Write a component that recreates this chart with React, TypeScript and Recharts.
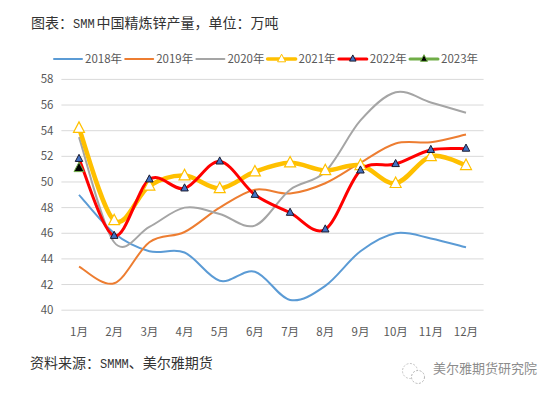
import { LineChart, Line, XAxis, YAxis, CartesianGrid } from 'recharts';

const months = ['1月', '2月', '3月', '4月', '5月', '6月', '7月', '8月', '9月', '10月', '11月', '12月'];
const yTicks = [40, 42, 44, 46, 48, 50, 52, 54, 56, 58];

const v2018 = [49, 46, 44.6, 44.5, 42.3, 43, 40.8, 41.9, 44.6, 46, 45.6, 44.9];
const v2019 = [43.4, 42.1, 45.3, 46.1, 48, 49.4, 49.1, 49.9, 51.5, 53, 53.1, 53.7];
const v2020 = [53.5, 45.3, 46.5, 48, 47.5, 46.6, 49.4, 50.8, 54.8, 57, 56.2, 55.4];
const v2021 = [54.2, 47, 49.7, 50.5, 49.5, 50.8, 51.5, 50.9, 51.3, 49.9, 52, 51.3];
const v2022 = [51.8, 45.8, 50.2, 49.5, 51.6, 49, 47.6, 46.3, 50.9, 51.4, 52.5, 52.6];
const v2023 = [51.1];

const chartData = months.map((month, i) => ({
  month,
  y2018: v2018[i],
  y2019: v2019[i],
  y2020: v2020[i],
  y2021: v2021[i],
  y2022: v2022[i],
  y2023: v2023[i] ?? null,
}));

const FONT = '"Noto Sans CJK SC", "Noto Sans", sans-serif';
const MONO = { fontFamily: '"Liberation Mono", monospace', fontSize: 12 };

// excel style smoothed line (catmull-rom through every point)
function excelCurve(context: any) {
  let pts: [number, number][] = [];
  return {
    areaStart() {},
    areaEnd() {},
    lineStart() {
      pts = [];
    },
    point(x: number, y: number) {
      pts.push([+x, +y]);
    },
    lineEnd() {
      if (!pts.length) return;
      context.moveTo(pts[0][0], pts[0][1]);
      if (pts.length === 1) context.lineTo(pts[0][0], pts[0][1]);
      for (let i = 0; i < pts.length - 1; i++) {
        const p0 = pts[Math.max(i - 1, 0)];
        const p1 = pts[i];
        const p2 = pts[i + 1];
        const p3 = pts[Math.min(i + 2, pts.length - 1)];
        context.bezierCurveTo(
          p1[0] + (p2[0] - p0[0]) / 6,
          p1[1] + (p2[1] - p0[1]) / 6,
          p2[0] - (p3[0] - p1[0]) / 6,
          p2[1] - (p3[1] - p1[1]) / 6,
          p2[0],
          p2[1],
        );
      }
    },
  };
}

function Triangle({ cx, cy, size, fill, stroke, strokeWidth }: any) {
  if (cx == null || cy == null) return null;
  const h = size * 0.95;
  return (
    <path
      d={`M${cx},${cy - h / 2 - 1}L${cx + size / 2},${cy + h / 2 - 1}L${cx - size / 2},${cy + h / 2 - 1}Z`}
      fill={fill}
      stroke={stroke}
      strokeWidth={strokeWidth}
    />
  );
}

const dot2021 = (p: any) => <Triangle key={p.index} cx={p.cx} cy={p.cy} size={11} fill="#fff" stroke="#FFC000" strokeWidth={1.2} />;
const dot2022 = (p: any) => <Triangle key={p.index} cx={p.cx} cy={p.cy} size={7.5} fill="#4472C4" stroke="#1a1a2e" strokeWidth={1} />;
const dot2023 = (p: any) => <Triangle key={p.index} cx={p.cx} cy={p.cy} size={10} fill="#000" stroke="#70AD47" strokeWidth={1} />;

const legendItems = [
  { name: '2018年', color: '#5B9BD5', width: 2, marker: null },
  { name: '2019年', color: '#ED7D31', width: 2, marker: null },
  { name: '2020年', color: '#A5A5A5', width: 2, marker: null },
  { name: '2021年', color: '#FFC000', width: 3.5, marker: { size: 8, fill: '#fff', stroke: '#FFC000' } },
  { name: '2022年', color: '#FF0000', width: 3, marker: { size: 6.5, fill: '#4472C4', stroke: '#1a1a2e' } },
  { name: '2023年', color: '#70AD47', width: 3, marker: { size: 7, fill: '#000', stroke: '#70AD47' } },
];

function ChartLegend() {
  return (
    <svg width={551} height={24} style={{ position: 'absolute', left: 0, top: 47 }}>
      {legendItems.map((item, i) => {
        const x = 54 + i * 71.2;
        return (
          <g key={item.name}>
            <line x1={x} x2={x + 28} y1={12} y2={12} stroke={item.color} strokeWidth={item.width} strokeLinecap="round" />
            {item.marker && (
              <Triangle cx={x + 14} cy={12} size={item.marker.size} fill={item.marker.fill} stroke={item.marker.stroke} strokeWidth={1} />
            )}
            <text x={x + 31} y={16} fontSize={11.5} fill="#595959" fontFamily={FONT}>
              {item.name}
            </text>
          </g>
        );
      })}
    </svg>
  );
}

function WechatMark() {
  return (
    <svg width={26} height={24} style={{ position: 'absolute', left: 401, top: 362 }}>
      <circle cx={9} cy={9} r={7.5} fill="none" stroke="#c4c4c4" strokeWidth={1} strokeDasharray="2 1.5" />
      <circle cx={17} cy={15} r={6.5} fill="#fff" stroke="#b5b5b5" strokeWidth={1} strokeDasharray="2 1.5" />
    </svg>
  );
}

export default function App() {
  return (
    <div style={{ position: 'absolute', left: 0, top: 0, width: 551, height: 394, background: '#fff', overflow: 'hidden', fontFamily: FONT }}>
      <div style={{ position: 'absolute', left: 31, top: 12, fontSize: 14, lineHeight: '20px', color: '#333', whiteSpace: 'nowrap' }}>
        图表：<span style={{ ...MONO, marginRight: 2 }}>SMM</span>中国精炼锌产量，单位：万吨
      </div>

      <ChartLegend />

      <LineChart
        width={551}
        height={394}
        data={chartData}
        margin={{ top: 79.4, right: 67.4, bottom: 53.8, left: 0 }}
        style={{ position: 'absolute', left: 0, top: 0 }}
      >
        <CartesianGrid horizontal vertical={false} stroke="#D9D9D9" strokeWidth={1} />
        <XAxis
          dataKey="month"
          interval={0}
          height={30}
          padding={{ left: 17.6, right: 17.6 }}
          tickLine={false}
          axisLine={false}
          tickMargin={12}
          tick={{ fontSize: 11.5, fill: '#595959', fontFamily: FONT }}
        />
        <YAxis
          width={61.4}
          domain={[40, 58]}
          ticks={yTicks}
          interval={0}
          tickLine={false}
          axisLine={false}
          tick={{ fontSize: 11.5, fill: '#595959', fontFamily: FONT }}
        />
        <Line dataKey="y2018" type={excelCurve as any} stroke="#5B9BD5" strokeWidth={2} dot={false} isAnimationActive={false} />
        <Line dataKey="y2019" type={excelCurve as any} stroke="#ED7D31" strokeWidth={2} dot={false} isAnimationActive={false} />
        <Line dataKey="y2020" type={excelCurve as any} stroke="#A5A5A5" strokeWidth={2} dot={false} isAnimationActive={false} />
        <Line dataKey="y2021" type={excelCurve as any} stroke="#FFC000" strokeWidth={4.5} dot={dot2021} isAnimationActive={false} />
        <Line dataKey="y2022" type={excelCurve as any} stroke="#FF0000" strokeWidth={3} dot={dot2022} isAnimationActive={false} />
        <Line dataKey="y2023" type={excelCurve as any} stroke="#70AD47" strokeWidth={3} dot={dot2023} isAnimationActive={false} />
      </LineChart>

      <div style={{ position: 'absolute', left: 30, top: 352, fontSize: 14, lineHeight: '20px', color: '#333', whiteSpace: 'nowrap' }}>
        资料来源：<span style={MONO}>SMMM</span>、美尔雅期货
      </div>
      <WechatMark />
      <div style={{ position: 'absolute', left: 433, top: 359, fontSize: 13, lineHeight: '18px', color: '#8c8c8c', whiteSpace: 'nowrap' }}>
        美尔雅期货研究院
      </div>
    </div>
  );
}
